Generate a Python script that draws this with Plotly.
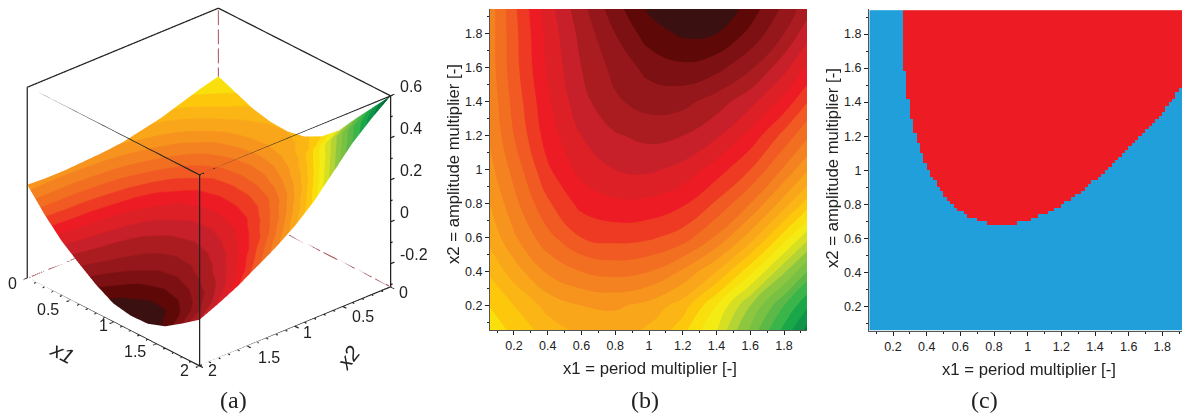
import plotly.graph_objects as go

# ---------- data ----------
grid_nodes = [0, 0.2, 0.4, 0.6, 0.8, 1.0, 1.2, 1.4, 1.6, 1.8, 2.0]
z_x2_00 = [.275, .24, .205, .185, .18, .197, .24, .31, .41, .505, .60]
z_x2_02 = [.25, .21, .17, .15, .145, .16, .195, .27, .36, .45, .53]
z_x2_04 = [.22, .165, .115, .09, .08, .09, .125, .18, .26, .355, .45]
z_x2_06 = [.19, .125, .07, .03, .02, .025, .045, .095, .165, .255, .35]
z_x2_08 = [.17, .10, .035, -.01, -.024, -.022, -.005, .035, .09, .165, .25]
z_x2_10 = [.15, .08, .005, -.04, -.06, -.065, -.05, -.015, .03, .095, .17]
z_x2_12 = [.14, .06, -.015, -.06, -.087, -.098, -.09, -.065, -.02, .04, .105]
z_x2_14 = [.135, .05, -.025, -.08, -.115, -.133, -.13, -.105, -.07, -.02, .05]
z_x2_16 = [.13, .042, -.035, -.09, -.13, -.16, -.173, -.16, -.125, -.07, -.005]
z_x2_18 = [.13, .04, -.04, -.10, -.15, -.195, -.215, -.21, -.172, -.12, -.05]
z_x2_20 = [.135, .035, -.05, -.115, -.175, -.222, -.238, -.235, -.205, -.15, -.09]
surface_rows = [z_x2_00, z_x2_02, z_x2_04, z_x2_06, z_x2_08, z_x2_10,
                z_x2_12, z_x2_14, z_x2_16, z_x2_18, z_x2_20]

# lowest amplitude multiplier of the red region, one value per column of (c)
boundary_cols = [2.0] * 10 + [
    1.58, 1.42, 1.29, 1.21, 1.15, 1.09, 1.03, .99, .95, .93, .89, .87, .83, .81, .79, .77,
    .75, .75, .73, .71, .71, .71, .69, .69, .69, .67, .67, .67, .67, .67, .67, .67, .67, .67,
    .69, .69, .69, .69, .71, .71, .73, .73, .73, .75, .75, .77, .77, .79, .81, .81, .83, .85, .85,
    .87, .89, .91, .93, .93, .95, .97, .99, 1.01, 1.03, 1.05, 1.07, 1.09, 1.11, 1.13, 1.15, 1.17,
    1.19, 1.21, 1.23, 1.25, 1.27, 1.29, 1.31, 1.33, 1.37, 1.39, 1.41, 1.45, 1.47, 1.49]
cell_centres = [round(0.07 + 0.02 * i, 2) for i in range(len(boundary_cols))]

flat_ticks = [0.2, 0.4, 0.6, 0.8, 1.0, 1.2, 1.4, 1.6, 1.8]
flat_labels = ["0.2", "0.4", "0.6", "0.8", "1", "1.2", "1.4", "1.6", "1.8"]
flat_minor = [0.1, 0.3, 0.5, 0.7, 0.9, 1.1, 1.3, 1.5, 1.7, 1.9]
cube_ticks = [0, 0.5, 1, 1.5, 2]
cube_labels = ["0", "0.5", "1", "1.5", "2"]
cube_minor = [0.1, 0.2, 0.3, 0.4, 0.6, 0.7, 0.8, 0.9, 1.1, 1.2, 1.3, 1.4, 1.6, 1.7, 1.8, 1.9]
height_ticks = [-0.2, 0, 0.2, 0.4, 0.6]
height_labels = ["-0.2", "0", "0.2", "0.4", "0.6"]
height_minor = [-0.3, -0.1, 0.1, 0.3, 0.5]

# ---------- styling ----------
band_colors = ["#3a1010", "#5e0808", "#7d1012", "#96171b", "#ab1c20", "#c8202a", "#dd1f26", "#ed1c24",
               "#ef3a23", "#f15a22", "#f26f21", "#f58220", "#f7941d", "#faa61a", "#fbb515", "#fdc70c",
               "#f9e00c", "#f4eb14", "#d7df23", "#b4d334", "#8dc63f", "#78c143", "#5cb947", "#39b54a",
               "#1aa74a", "#0f9448", "#007f3f", "#006837"]
n = len(band_colors)
stepped = []
for i, c in enumerate(band_colors):
    stepped += [[i / n, c], [(i + 1) / n, c]]
Z_MIN, Z_MAX = -0.24, 0.60
W, H = 1182, 415
TXT = "#222222"

fig = go.Figure()

# ---------- (a) ----------
transposed = [list(r) for r in zip(*surface_rows)]
fig.add_trace(go.Surface(x=grid_nodes, y=grid_nodes, z=transposed, cmin=Z_MIN, cmax=Z_MAX,
                         colorscale=stepped, showscale=False, hoverinfo="skip",
                         lighting=dict(ambient=1, diffuse=0, specular=0, roughness=1, fresnel=0),
                         scene="scene"))
zb, zt = -0.31, 0.60
solid_x = [2,2,0,None, 0,2,None, 0,0,None, 2,2,None, 2,2,None, 0,0,None, 0,2,None, 2,2]
solid_y = [0,2,2,None, 0,0,None, 2,0,None, 0,0,None, 2,2,None, 2,2,None, 2,2,None, 2,0]
solid_z = [zt,zt,zt,None, zt,zt,None, zt,zt,None, zt,zb,None, zt,zb,None, zt,zb,None, zb,zb,None, zb,zb]
# tick marks hang off the box edges, at the tick values
tick_x, tick_y, tick_z = [], [], []
for vals, ln in [(cube_ticks, 0.04), (cube_minor, 0.02)]:
    for v in vals:
        tick_x += [2, 2 + ln, None, v, v, None]
        tick_y += [v, v, None, 2, 2 + ln, None]
        tick_z += [zb, zb, None, zb, zb, None]
for vals, ln in [(height_ticks, 0.04), (height_minor, 0.02)]:
    for v in vals:
        tick_x += [0, -ln, None]
        tick_y += [2, 2, None]
        tick_z += [v, v, None]
fig.add_trace(go.Scatter3d(x=solid_x + [None] + tick_x, y=solid_y + [None] + tick_y, z=solid_z + [None] + tick_z,
                           mode="lines", hoverinfo="skip",
                           line=dict(color="#222222", width=2.5), showlegend=False, scene="scene"))

# hidden back edges: long dashes built along each edge of the box
dash_x, dash_y, dash_z = [], [], []
for k in range(10):
    s0, s1 = k * 0.2 + 0.02, k * 0.2 + 0.18
    dash_x += [s0, s1, None, 0, 0, None]
    dash_y += [0, 0, None, s0, s1, None]
    dash_z += [zb, zb, None, zb, zb, None]
    h0, h1 = zb + k * (zt - zb) / 10 + 0.01, zb + (k + 1) * (zt - zb) / 10 - 0.01
    dash_x += [0, 0, None]
    dash_y += [0, 0, None]
    dash_z += [h0, h1, None]
fig.add_trace(go.Scatter3d(x=dash_x, y=dash_y, z=dash_z, mode="lines", hoverinfo="skip",
                           line=dict(color="#a8525a", width=2), showlegend=False, scene="scene"))

tick_font = dict(family="Liberation Sans", size=16, color=TXT)
scene_ann = []
for v, t, xs, ys in zip(cube_ticks, cube_labels, [-15, -22, -10, -22, -15], [-5, -9, -4, -8, -5]):
    scene_ann.append(dict(x=2, y=v, z=zb, text=t, showarrow=False, font=tick_font, xshift=xs, yshift=ys))
for v, t, xs, ys in zip(cube_ticks, cube_labels, [13, 20, 12, 22, 13], [-6, -10, -6, -11, -5]):
    scene_ann.append(dict(x=v, y=2, z=zb, text=t, showarrow=False, font=tick_font, xshift=xs, yshift=ys))
for v, t in zip(height_ticks, height_labels):
    scene_ann.append(dict(x=0, y=2, z=v, text=t, showarrow=False, font=tick_font,
                          xanchor="left", xshift=7, yshift=9))

def ax3(rng):
    return dict(range=rng, showticklabels=False, ticks="", showgrid=False, zeroline=False, showline=False,
                showbackground=False, showspikes=False, title=dict(text=""))

# ---------- (b) ----------
fig.add_trace(go.Contour(x=grid_nodes, y=grid_nodes, z=surface_rows, colorscale=stepped, zmin=Z_MIN, zmax=Z_MAX,
                         autocontour=False, contours=dict(start=Z_MIN, end=Z_MAX, size=0.03, coloring="fill"),
                         line=dict(width=0, smoothing=1.3), showscale=False, hoverinfo="skip", xaxis="x", yaxis="y"))

# ---------- (c) ----------
region = [[1 if y > b else 0 for b in boundary_cols] for y in cell_centres]
fig.add_trace(go.Heatmap(x=cell_centres, y=cell_centres, z=region, zmin=0, zmax=1,
                         colorscale=[[0, "#209fdb"], [1, "#ed1c24"]], showscale=False, hoverinfo="skip",
                         xaxis="x2", yaxis="y2"))

def flat(rng, domain, anchor):
    return dict(range=rng, domain=domain, anchor=anchor, tickvals=flat_ticks, ticktext=flat_labels,
                ticks="outside", ticklen=4, tickcolor=TXT, tickwidth=1,
                tickfont=dict(family="Liberation Sans", size=12.5, color=TXT),
                minor=dict(tickvals=flat_minor, ticks="outside", ticklen=2, tickcolor=TXT),
                showline=True, linecolor="#555555", linewidth=1, showgrid=False, zeroline=False)

def px(x): return x / W
def py(y): return 1 - y / H

annots = []
for x_, y_, t_ in [(233, 400, "(a)"), (645, 400, "(b)"), (984, 400, "(c)")]:
    annots.append(dict(x=px(x_), y=py(y_), text=t_, xref="paper", yref="paper", showarrow=False,
                       xanchor="center", yanchor="middle",
                       font=dict(family="Liberation Serif", size=24, color=TXT)))
for x_, y_, t_, ang in [(62, 352, "x1", 28), (348, 357, "x2", -52)]:
    annots.append(dict(x=px(x_), y=py(y_), xref="paper", yref="paper", showarrow=False, text="<i>%s</i>" % t_,
                       xanchor="center", yanchor="middle",
                       textangle=ang, font=dict(family="Liberation Sans", size=21, color=TXT)))
for x_, y_, t_, ang in [(650, 368, "x1 = period multiplier [-]", 0), (453, 164, "x2 = amplitude multiplier [-]", -90),
                        (1029, 369, "x1 = period multiplier [-]", 0), (832, 168, "x2 = amplitude multiplier [-]", -90)]:
    annots.append(dict(x=px(x_), y=py(y_), xref="paper", yref="paper", showarrow=False, text=t_,
                       xanchor="center", yanchor="middle", textangle=ang,
                       font=dict(family="Liberation Sans", size=16.7, color=TXT)))

fig.update_layout(
    width=W, height=H, margin=dict(l=0, r=0, t=0, b=0), paper_bgcolor="white", plot_bgcolor="white",
    showlegend=False, annotations=annots,
    scene=dict(domain=dict(x=[0, 418 / W], y=[py(374), 1]),
               xaxis=ax3([-0.04, 2.04]), yaxis=ax3([-0.04, 2.04]), zaxis=ax3([zb, zt]),
               aspectmode="manual", aspectratio=dict(x=1.431, y=1.431, z=1.149),
               camera=dict(projection=dict(type="orthographic"), up=dict(x=0, y=0, z=1),
                           center=dict(x=0, y=0, z=0), eye=dict(x=0.595 * 4, y=0.660 * 4, z=0.459 * 4)),
               annotations=scene_ann),
    xaxis=flat([0.058, 1.936], [px(490), px(807)], "y"),
    yaxis=flat([0.057, 1.945], [py(330), py(9)], "x"),
    xaxis2=flat([0.057, 1.917], [px(869), 1], "y2"),
    yaxis2=flat([0.055, 1.947], [py(331), py(9)], "x2"),
)
fig.write_html("out.html", post_script="document.body.style.margin='0';", config=dict(displayModeBar=False))
